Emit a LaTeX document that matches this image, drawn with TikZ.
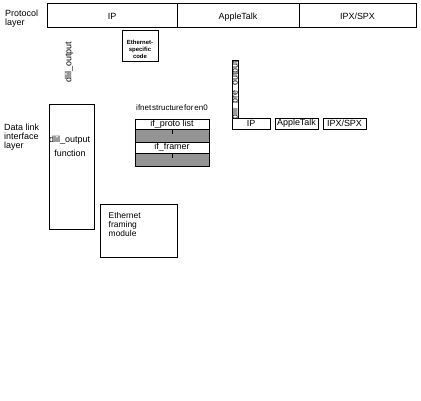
\documentclass[tikz,border=0pt]{standalone}
\usepackage{fontspec}
\setmainfont{Liberation Sans}
\begin{document}
\begin{tikzpicture}[x=1bp,y=-1bp,
  box/.style={draw,line width=0.8bp,inner sep=0pt,outer sep=0pt,anchor=north west,font=\fontsize{9}{9}\selectfont},
  lbl/.style={inner sep=0pt,anchor=north west,align=left,font=\fontsize{9}{8.8}\selectfont},
  hatch/.style={draw,line width=0.8bp,fill=black!42},
  tick/.style={line width=0.6bp}]
\fill[white] (0,0) rectangle (421,401);
\useasboundingbox (0,0) rectangle (421,401);
% labels
\node[lbl] (protlbl) at (5,10) {Protocol\\layer};
\node[lbl] (dllbl) at (4,124) {Data link\\interface\\layer};
% protocol layer
\node[box,minimum width=130bp,minimum height=24bp] (pip) at (47,3) {};
\node[box,minimum width=122bp,minimum height=24bp] (pat) at (177,3) {};
\node[box,minimum width=117bp,minimum height=24bp] (pipx) at (299,3) {};
\node[lbl,anchor=base] (pipt) at (112,19.5) {IP};
\node[lbl,anchor=base] (patt) at (238,19.5) {AppleTalk};
\node[lbl,anchor=base] (pipxt) at (357.5,19.5) {IPX/SPX};
% ethernet specific code
\node[box,minimum width=36bp,minimum height=31bp] (esc) at (122,30) {};
\node[align=center,inner sep=0pt,font=\fontsize{6}{7}\selectfont\bfseries] (esct) at (140,49) {Ethernet-\\specific\\code};
% dlil_output vertical label
\node[lbl,anchor=center,rotate=90] (dlo) at (69,62) {dlil\_output};
% dlil_output function box
\node[box,minimum width=45bp,minimum height=125bp] (dlf) at (49,104) {};
\node[lbl,anchor=west] (dlft1) at (49,140) {dlil\_output};
\node[lbl,anchor=center] (dlft2) at (70,153.5) {function};
% ethernet framing module
\node[box,minimum width=77bp,minimum height=53bp] (efm) at (100,204) {};
\node[lbl,anchor=north west,font=\fontsize{8.5}{8.7}\selectfont] (efmt) at (108.5,212.5) {Ethernet\\framing\\module};
% ifnet structure
\node[lbl,anchor=center,font=\fontsize{8}{9}\selectfont] (ifl) at (172,108) {\spaceskip=0.12em ifnet structure for en0};
\node[box,minimum width=74bp,minimum height=10bp] (r1) at (135,119) {if\_proto list};
\node[box,hatch,minimum width=74bp,minimum height=13bp] (r2) at (135,129) {};
\node[box,minimum width=74bp,minimum height=11bp] (r3) at (135,142) {if\_framer};
\node[box,hatch,minimum width=74bp,minimum height=13bp] (r4) at (135,153) {};
\draw[tick] (r2.north) -- ++(0,5);
\draw[tick] (r4.north) -- ++(0,5);
% dl_pre_output
\node[box,minimum width=6bp,minimum height=58bp] (dpo) at (232,60) {};
\begin{scope}
\clip (232,60) rectangle (238.4,118);
\node[inner sep=0pt,anchor=base east,rotate=90,font=\fontsize{9}{9}\selectfont] (dpot) at (237.6,60.5) {dlil\_pre\_output};
\end{scope}
\node[box,minimum width=38bp,minimum height=11bp] (qip) at (232,118) {IP};
\node[box,minimum width=43bp,minimum height=11bp] (qat) at (275,118) {AppleTalk};
\node[box,minimum width=43bp,minimum height=11bp] (qipx) at (323,118) {IPX/SPX};
\end{tikzpicture}
\end{document}
